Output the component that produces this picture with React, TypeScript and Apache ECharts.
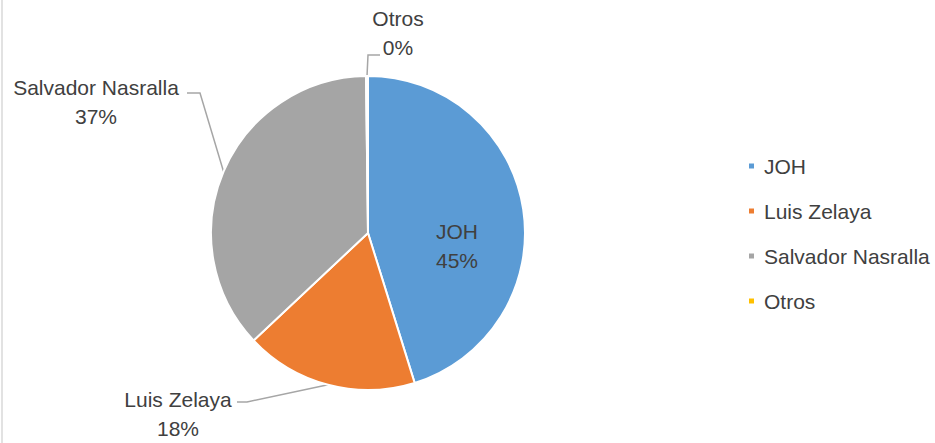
import React, { useEffect, useRef } from "react";
import * as echarts from "echarts";

const categories = ["JOH", "Luis Zelaya", "Salvador Nasralla", "Otros"];
const shares = [45.2, 17.8, 36.8, 0.2];
const colors = ["#5B9BD5", "#ED7D31", "#A5A5A5", "#FFC000"];

// label layout (positions of the data labels and their leader-line bends)
const labelSpots = [
  { x: 457, y: 246, bend: null as null | number[][] },
  { x: 178, y: 414, bend: [[247, 402], [237, 402]] },
  { x: 96, y: 102, bend: [[200, 93], [187, 93]] },
  { x: 398, y: 33, bend: [[368, 55], [380, 55]] },
];

const FONT = "'Liberation Sans', Arial, sans-serif";

export default function App() {
  const ref = useRef<HTMLDivElement>(null);
  useEffect(() => {
    if (!ref.current) return;
    const chart = echarts.init(ref.current, undefined, { renderer: "svg" });
    chart.setOption({
      animation: false,
      backgroundColor: "#ffffff",
      color: colors,
      legend: {
        orient: "vertical",
        left: 742,
        top: 149,
        itemWidth: 7,
        itemHeight: 7,
        itemGap: 21,
        icon: "rect",
        data: categories,
        textStyle: {
          fontFamily: FONT,
          fontSize: 21,
          color: "#404040",
          lineHeight: 24,
          padding: [0, 0, 0, 4],
        },
      },
      graphic: [
        {
          type: "line",
          shape: { x1: 2, y1: 0, x2: 2, y2: 443 },
          style: { stroke: "#D9D9D9", lineWidth: 1.5 },
          silent: true,
        },
      ],
      series: [
        {
          type: "pie",
          center: [368, 233],
          radius: 157,
          startAngle: 90,
          clockwise: true,
          avoidLabelOverlap: false,
          itemStyle: { borderColor: "#ffffff", borderWidth: 2 },
          label: {
            show: true,
            position: "outside",
            fontFamily: FONT,
            fontSize: 21,
            lineHeight: 29,
            color: "#404040",
            align: "center",
            formatter: (p: any) => `${p.name}\n${Math.round(p.percent)}%`,
          },
          labelLine: {
            show: true,
            lineStyle: { color: "#A6A6A6", width: 1.5 },
          },
          labelLayout: (params: any) => {
            const s = labelSpots[params.dataIndex];
            const out: any = {
              x: s.x,
              y: s.y,
              align: "center",
              verticalAlign: "middle",
            };
            if (s.bend && params.labelLinePoints) {
              out.labelLinePoints = [params.labelLinePoints[0], s.bend[0], s.bend[1]];
            }
            return out;
          },
          data: categories.map((name, i) =>
            i === 0
              ? {
                  name,
                  value: shares[i],
                  label: { position: "inner" },
                  labelLine: { show: false },
                }
              : { name, value: shares[i] }
          ),
        },
      ],
    });
    return () => chart.dispose();
  }, []);
  return (
    <div
      ref={ref}
      style={{ position: "absolute", left: 0, top: 0, width: 935, height: 443 }}
    />
  );
}
